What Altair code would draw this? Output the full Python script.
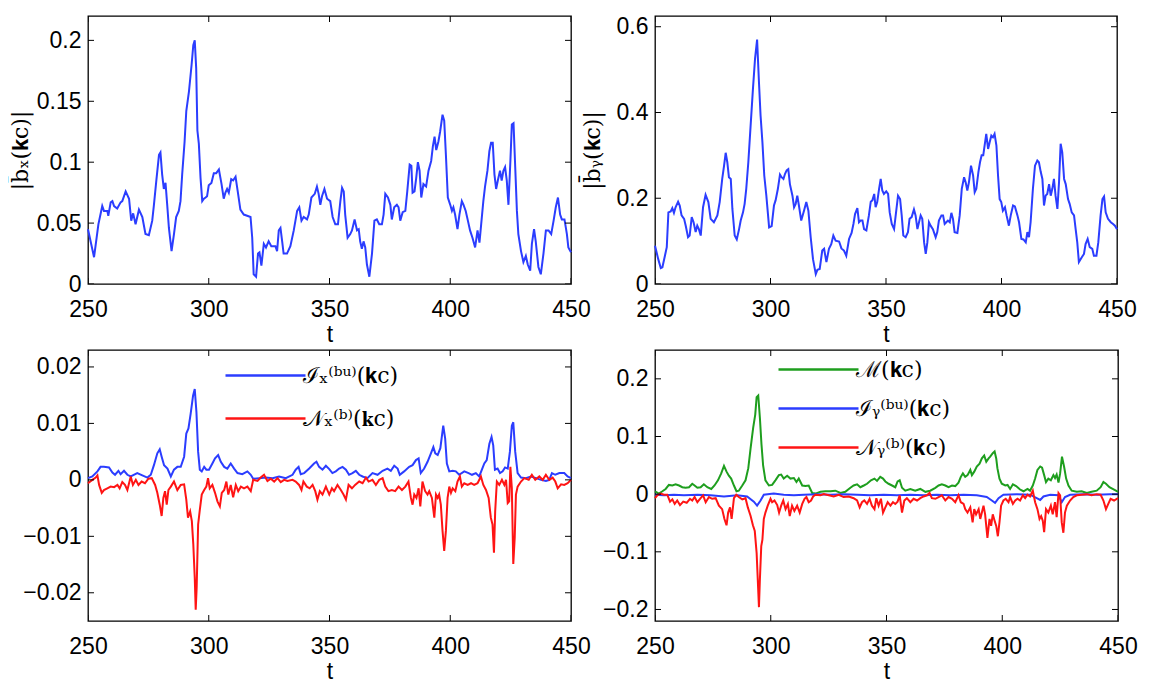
import altair as alt
import pandas as pd

# ---------------- data ----------------
X_TICKS = [250, 300, 350, 400, 450]

# top-left: |b_x(k_c)|
TL_T = [250.0, 252.5, 254.3, 255.9, 256.6, 258.0, 258.4, 259.4, 260.1, 260.8,
        262.1, 263.5, 264.2, 265.6, 267.0, 267.9, 268.7, 269.7, 271.1, 272.5,
        273.8, 275.2, 276.6, 277.3, 278.3, 279.4, 280.0, 280.7, 281.4, 282.1,
        282.8, 283.5, 284.6, 285.6, 286.5, 287.6, 288.3, 289.0, 290.0, 290.7,
        291.8, 292.9, 293.6, 294.2, 294.8, 295.3, 295.9, 296.6, 297.3, 298.0,
        298.7, 299.3, 300.0, 301.1, 302.1, 303.1, 304.2, 305.3, 306.2, 306.9,
        307.6, 308.3, 309.3, 310.1, 311.1, 312.0, 313.1, 314.5, 315.9, 317.3,
        318.0, 318.6, 319.6, 320.4, 321.0, 321.8, 322.8, 323.7, 324.8, 325.9,
        327.6, 328.3, 329.0, 329.7, 330.4, 331.0, 332.4, 333.8, 335.2, 336.6,
        337.5, 338.4, 339.3, 340.7, 341.4, 342.5, 343.9, 344.8, 345.5, 346.2,
        346.9, 347.9, 349.0, 350.3, 351.3, 352.4, 353.5, 354.5, 355.2, 355.9,
        356.5, 357.5, 358.6, 359.3, 360.4, 361.4, 362.1, 362.7, 363.4, 364.1,
        364.8, 365.5, 366.5, 367.6, 368.6, 369.6, 370.6, 371.7, 372.4, 373.1,
        374.2, 375.2, 375.8, 376.8, 377.9, 378.6, 379.3, 380.3, 381.4, 382.2,
        383.2, 383.9, 384.4, 385.2, 385.9, 386.6, 387.3, 388.0, 388.9, 390.0,
        391.0, 392.1, 392.8, 393.5, 394.2, 395.1, 395.8, 396.8, 397.5, 398.2,
        399.0, 400.0, 400.7, 401.3, 402.0, 403.0, 403.8, 404.8, 405.5, 406.4,
        407.3, 408.2, 409.2, 410.3, 411.3, 412.1, 412.8, 413.7, 414.4, 415.4,
        416.2, 416.9, 417.6, 418.3, 419.0, 419.7, 420.6, 421.3, 422.0, 422.7,
        423.4, 424.1, 424.9, 425.5, 426.2, 426.9, 427.6, 428.2, 429.3, 430.3,
        431.3, 432.1, 433.1, 433.8, 434.7, 435.4, 436.5, 437.5, 438.6, 439.6,
        440.7, 441.8, 442.8, 443.7, 444.6, 445.5, 446.2, 447.3, 448.3, 448.9,
        450.0]
TL_V = [0.045, 0.022, 0.049, 0.064, 0.060, 0.060, 0.056, 0.067, 0.068, 0.064,
        0.062, 0.067, 0.068, 0.076, 0.070, 0.052, 0.058, 0.049, 0.061, 0.055,
        0.041, 0.040, 0.052, 0.065, 0.085, 0.106, 0.108, 0.090, 0.078, 0.083,
        0.065, 0.046, 0.027, 0.041, 0.055, 0.060, 0.068, 0.090, 0.117, 0.142,
        0.158, 0.180, 0.196, 0.200, 0.177, 0.126, 0.115, 0.087, 0.068, 0.070,
        0.071, 0.072, 0.081, 0.083, 0.091, 0.091, 0.094, 0.082, 0.070, 0.075,
        0.078, 0.075, 0.086, 0.085, 0.088, 0.076, 0.061, 0.057, 0.056, 0.055,
        0.038, 0.008, 0.006, 0.025, 0.026, 0.015, 0.033, 0.030, 0.035, 0.031,
        0.031, 0.027, 0.044, 0.046, 0.035, 0.025, 0.025, 0.031, 0.044, 0.060,
        0.063, 0.052, 0.055, 0.053, 0.057, 0.071, 0.074, 0.080, 0.074, 0.065,
        0.072, 0.078, 0.070, 0.068, 0.055, 0.049, 0.049, 0.068, 0.079, 0.076,
        0.057, 0.038, 0.041, 0.044, 0.053, 0.044, 0.045, 0.035, 0.029, 0.035,
        0.030, 0.016, 0.006, 0.025, 0.052, 0.053, 0.049, 0.049, 0.057, 0.074,
        0.071, 0.065, 0.053, 0.063, 0.065, 0.063, 0.052, 0.059, 0.060, 0.076,
        0.098, 0.097, 0.075, 0.076, 0.087, 0.100, 0.093, 0.071, 0.082, 0.080,
        0.093, 0.101, 0.113, 0.121, 0.110, 0.117, 0.125, 0.139, 0.134, 0.106,
        0.071, 0.065, 0.060, 0.063, 0.057, 0.045, 0.057, 0.068, 0.065, 0.060,
        0.052, 0.044, 0.038, 0.030, 0.044, 0.034, 0.049, 0.068, 0.080, 0.093,
        0.109, 0.116, 0.116, 0.090, 0.078, 0.085, 0.093, 0.085, 0.093, 0.096,
        0.085, 0.065, 0.101, 0.131, 0.132, 0.096, 0.060, 0.041, 0.027, 0.018,
        0.023, 0.016, 0.011, 0.033, 0.045, 0.035, 0.014, 0.008, 0.025, 0.044,
        0.044, 0.041, 0.052, 0.063, 0.071, 0.057, 0.053, 0.053, 0.041, 0.030,
        0.026]

# top-right: |b_y(k_c)|
TR_T = [250.0, 251.4, 252.5, 253.2, 254.3, 255.1, 255.8, 256.8, 257.5, 258.2,
        258.9, 260.0, 260.7, 261.5, 262.6, 263.3, 264.3, 265.0, 265.9, 266.7,
        267.6, 268.3, 269.0, 269.8, 270.8, 271.9, 273.1, 274.1, 275.5, 277.0,
        278.0, 279.1, 279.9, 280.6, 281.3, 282.0, 282.8, 283.5, 284.5, 285.4,
        286.4, 287.1, 288.1, 288.8, 289.5, 290.4, 291.4, 292.4, 293.3, 294.2,
        295.0, 295.7, 296.5, 297.3, 298.2, 299.4, 300.5, 301.5, 302.2, 303.2,
        304.1, 304.8, 305.6, 306.3, 307.0, 307.7, 308.4, 309.5, 310.2, 310.9,
        311.6, 312.3, 313.3, 314.5, 315.5, 316.4, 317.4, 318.4, 319.6, 320.3,
        321.3, 322.4, 323.2, 324.2, 325.3, 326.3, 327.2, 328.2, 329.7, 330.7,
        331.8, 332.8, 334.0, 335.1, 335.9, 336.6, 337.6, 338.3, 339.0, 339.8,
        340.5, 341.5, 342.6, 343.4, 344.1, 344.9, 345.5, 346.2, 347.0, 347.7,
        348.4, 349.1, 350.1, 350.9, 351.6, 352.5, 353.5, 354.2, 355.2, 356.1,
        356.8, 357.5, 358.5, 359.5, 360.2, 361.1, 362.1, 362.8, 363.6, 364.3,
        365.0, 365.7, 366.5, 367.2, 367.9, 368.6, 369.3, 370.3, 371.5, 372.2,
        372.9, 374.0, 374.7, 375.4, 376.1, 376.8, 377.6, 378.3, 379.0, 379.7,
        380.9, 381.9, 382.8, 383.8, 384.5, 385.2, 385.9, 386.8, 387.7, 388.4,
        389.1, 390.0, 390.7, 391.4, 392.1, 392.9, 393.4, 394.2, 394.9, 395.6,
        396.3, 397.0, 397.8, 398.5, 399.2, 399.9, 400.6, 401.5, 402.2, 403.2,
        404.0, 405.0, 405.8, 406.9, 407.6, 408.6, 409.5, 410.5, 411.2, 411.9,
        412.6, 413.6, 414.5, 415.5, 416.2, 417.0, 417.7, 418.4, 419.1, 419.8,
        420.6, 421.3, 422.0, 422.7, 423.4, 424.2, 424.9, 425.6, 426.3, 427.1,
        427.8, 428.8, 429.5, 430.4, 431.4, 432.1, 432.8, 433.5, 434.7, 435.7,
        436.4, 437.3, 438.2, 439.3, 440.0, 441.1, 441.9, 442.9, 443.7, 444.4,
        445.1, 446.1, 447.3, 448.3, 449.1, 450.0]
TR_V = [0.089, 0.058, 0.037, 0.039, 0.066, 0.086, 0.167, 0.169, 0.177, 0.166,
        0.179, 0.192, 0.183, 0.160, 0.152, 0.136, 0.109, 0.113, 0.156, 0.144,
        0.121, 0.136, 0.128, 0.113, 0.179, 0.208, 0.191, 0.152, 0.144, 0.160,
        0.191, 0.245, 0.276, 0.306, 0.284, 0.249, 0.245, 0.175, 0.113, 0.104,
        0.128, 0.148, 0.167, 0.187, 0.222, 0.284, 0.370, 0.455, 0.525, 0.570,
        0.471, 0.393, 0.331, 0.253, 0.206, 0.132, 0.135, 0.183, 0.195, 0.222,
        0.255, 0.249, 0.245, 0.257, 0.265, 0.268, 0.233, 0.206, 0.179, 0.187,
        0.206, 0.183, 0.148, 0.171, 0.191, 0.171, 0.109, 0.058, 0.023, 0.033,
        0.035, 0.078, 0.082, 0.051, 0.082, 0.093, 0.113, 0.101, 0.099, 0.083,
        0.078, 0.066, 0.105, 0.119, 0.140, 0.163, 0.177, 0.144, 0.148, 0.148,
        0.128, 0.125, 0.160, 0.192, 0.195, 0.210, 0.179, 0.191, 0.222, 0.245,
        0.218, 0.210, 0.216, 0.210, 0.167, 0.140, 0.128, 0.160, 0.206, 0.198,
        0.160, 0.113, 0.109, 0.121, 0.152, 0.156, 0.174, 0.160, 0.128, 0.144,
        0.160, 0.152, 0.097, 0.070, 0.097, 0.144, 0.136, 0.128, 0.109, 0.121,
        0.148, 0.160, 0.160, 0.140, 0.144, 0.148, 0.144, 0.166, 0.152, 0.121,
        0.119, 0.160, 0.222, 0.249, 0.237, 0.218, 0.237, 0.276, 0.253, 0.214,
        0.222, 0.261, 0.284, 0.300, 0.300, 0.331, 0.350, 0.315, 0.331, 0.346,
        0.342, 0.350, 0.323, 0.253, 0.198, 0.191, 0.171, 0.179, 0.160, 0.136,
        0.160, 0.183, 0.181, 0.160, 0.144, 0.105, 0.104, 0.097, 0.121, 0.109,
        0.144, 0.222, 0.276, 0.288, 0.284, 0.261, 0.245, 0.183, 0.206, 0.210,
        0.233, 0.206, 0.222, 0.245, 0.206, 0.175, 0.237, 0.327, 0.307, 0.245,
        0.233, 0.198, 0.187, 0.167, 0.160, 0.128, 0.097, 0.051, 0.062, 0.070,
        0.093, 0.105, 0.086, 0.082, 0.066, 0.066, 0.097, 0.160, 0.198, 0.204,
        0.167, 0.152, 0.144, 0.140, 0.136, 0.128]

# bottom-left: I_x^(bu)(k_c) and N_x^(b)(k_c)
BL_I_T = [250.0, 251.8, 253.9, 255.2, 256.6, 258.7, 260.1, 261.2, 262.6, 263.5,
          264.9, 266.3, 267.7, 270.4, 272.5, 274.6, 276.0, 277.3, 278.7, 279.7,
          280.5, 281.5, 282.9, 284.3, 285.6, 287.0, 288.4, 289.8, 290.7, 291.6,
          292.5, 293.5, 294.2, 294.9, 295.6, 296.3, 297.1, 298.1, 299.0, 300.1,
          301.5, 302.6, 303.9, 305.0, 306.4, 307.7, 309.1, 310.5, 311.9, 313.9,
          316.0, 317.4, 318.4, 320.9, 323.6, 326.4, 329.1, 331.9, 334.7, 336.0,
          337.2, 338.1, 339.5, 341.6, 343.6, 344.6, 345.7, 347.1, 348.5, 349.9,
          351.2, 352.6, 354.0, 355.4, 356.8, 358.1, 359.5, 360.9, 362.3, 363.7,
          365.7, 367.8, 369.9, 372.0, 374.0, 375.4, 376.8, 378.2, 379.1, 380.9,
          383.0, 384.4, 385.8, 386.9, 387.8, 389.2, 390.6, 392.0, 393.0, 393.8,
          394.8, 395.9, 397.1, 397.9, 398.6, 399.6, 401.0, 402.3, 403.7, 405.8,
          407.6, 409.0, 410.6, 412.0, 413.1, 414.1, 415.1, 416.2, 417.1, 417.8,
          418.5, 419.6, 420.6, 421.7, 422.7, 423.8, 424.7, 425.5, 426.1, 426.9,
          427.9, 429.3, 431.3, 433.4, 435.5, 437.6, 439.6, 441.0, 442.1, 443.5,
          445.2, 447.2, 448.6, 450.0]
BL_I_V = [0.0003, 0.0006, 0.0015, 0.0023, 0.0023, 0.0022, 0.0013, 0.0009, 0.0016, 0.0010,
          0.0016, 0.0009, 0.0006, 0.0012, 0.0008, 0.0004, 0.0009, 0.0026, 0.0047, 0.0054,
          0.0041, 0.0026, 0.0020, 0.0006, 0.0018, 0.0023, 0.0023, 0.0041, 0.0082, 0.0091,
          0.0117, 0.0149, 0.0161, 0.0120, 0.0050, 0.0018, 0.0015, 0.0023, 0.0018, 0.0018,
          0.0029, 0.0038, 0.0044, 0.0032, 0.0023, 0.0020, 0.0029, 0.0020, 0.0012, 0.0010,
          0.0015, 0.0009, 0.0002, 0.0003, 0.0004, 0.0003, 0.0006, 0.0003, 0.0009, 0.0018,
          0.0023, 0.0010, 0.0012, 0.0020, 0.0029, 0.0032, 0.0023, 0.0018, 0.0025, 0.0019,
          0.0012, 0.0015, 0.0020, 0.0023, 0.0018, 0.0009, 0.0012, 0.0016, 0.0009, 0.0006,
          0.0003, 0.0012, 0.0009, 0.0016, 0.0020, 0.0016, 0.0025, 0.0020, 0.0009, 0.0015,
          0.0023, 0.0026, 0.0035, 0.0038, 0.0012, 0.0020, 0.0032, 0.0047, 0.0058, 0.0047,
          0.0044, 0.0056, 0.0096, 0.0073, 0.0029, 0.0015, 0.0016, 0.0015, 0.0009, 0.0015,
          0.0012, 0.0009, 0.0012, 0.0006, 0.0018, 0.0029, 0.0035, 0.0064, 0.0076, 0.0061,
          0.0018, 0.0020, 0.0012, 0.0015, 0.0022, 0.0020, 0.0050, 0.0096, 0.0102, 0.0050,
          0.0012, 0.0004, 0.0003, 0.0006, 0.0003, 0.0000, -0.0002, 0.0000, 0.0012, 0.0009,
          0.0012, 0.0012, 0.0006, 0.0003]

BL_N_T = [250.0, 251.8, 253.2, 253.9, 254.6, 255.7, 256.6, 258.0, 259.4, 260.8,
          262.2, 263.1, 264.2, 265.3, 266.3, 267.7, 268.6, 269.8, 270.9, 272.2,
          273.6, 275.0, 276.4, 277.8, 278.7, 279.7, 280.5, 281.2, 281.9, 282.6,
          283.3, 284.3, 285.6, 287.0, 288.4, 289.8, 290.7, 291.4, 292.3, 293.0,
          293.6, 294.2, 294.6, 295.0, 295.6, 296.3, 297.1, 298.1, 299.0, 299.7,
          300.4, 301.5, 302.6, 303.6, 304.6, 305.4, 306.4, 307.3, 308.1, 309.1,
          310.1, 311.2, 312.2, 313.3, 314.6, 316.0, 317.4, 318.4, 320.2, 321.5,
          322.9, 324.3, 325.7, 327.1, 328.5, 329.8, 331.2, 332.6, 334.7, 336.0,
          337.4, 338.4, 339.2, 340.6, 341.8, 343.0, 344.1, 345.0, 346.0, 347.1,
          348.5, 349.9, 351.0, 351.9, 353.3, 354.7, 355.8, 356.8, 357.9, 359.3,
          360.6, 362.3, 363.7, 365.1, 366.2, 367.8, 369.2, 370.6, 372.0, 373.1,
          374.4, 375.8, 377.2, 378.6, 380.0, 381.4, 382.7, 383.7, 384.4, 385.1,
          386.0, 386.9, 387.6, 388.5, 389.6, 390.6, 391.3, 392.4, 393.4, 394.1,
          394.8, 395.4, 396.1, 396.8, 397.5, 398.2, 398.9, 399.6, 400.3, 401.0,
          402.1, 403.0, 404.0, 404.8, 405.8, 407.2, 408.6, 409.9, 411.3, 412.7,
          413.7, 414.8, 415.9, 416.8, 417.5, 418.1, 418.6, 419.3, 420.3, 421.4,
          422.4, 423.1, 423.8, 424.4, 424.9, 425.5, 426.1, 426.7, 427.2, 427.9,
          429.3, 430.7, 432.5, 433.8, 435.2, 436.9, 438.3, 439.6, 441.0, 442.4,
          443.5, 444.5, 445.9, 447.2, 448.6, 450.0]
BL_N_V = [-0.0006, 0.0000, 0.0004, 0.0008, -0.0009, -0.0023, -0.0018, -0.0015, -0.0012, -0.0013,
          -0.0009, -0.0015, -0.0004, -0.0009, -0.0018, 0.0006, -0.0009, 0.0000, -0.0009, -0.0003,
          -0.0006, 0.0002, 0.0003, -0.0009, -0.0023, -0.0044, -0.0064, -0.0032, -0.0020, -0.0044,
          -0.0018, -0.0012, -0.0003, -0.0018, -0.0009, -0.0008, -0.0035, -0.0067, -0.0056, -0.0073,
          -0.0114, -0.0173, -0.0230, -0.0190, -0.0079, -0.0053, -0.0026, -0.0018, -0.0012, 0.0003,
          -0.0015, -0.0009, -0.0023, -0.0038, -0.0047, -0.0023, -0.0018, -0.0003, -0.0026, -0.0009,
          -0.0031, -0.0009, -0.0020, -0.0012, -0.0015, -0.0012, -0.0020, 0.0000, -0.0002, 0.0004,
          0.0009, -0.0002, 0.0002, -0.0003, 0.0003, -0.0004, 0.0000, -0.0002, 0.0000, -0.0003,
          -0.0009, -0.0018, -0.0003, -0.0012, -0.0015, -0.0009, -0.0020, -0.0035, -0.0020, -0.0026,
          -0.0012, -0.0026, -0.0015, -0.0020, -0.0009, -0.0018, -0.0026, -0.0035, -0.0009, -0.0015,
          -0.0009, -0.0003, -0.0006, 0.0004, -0.0003, 0.0000, -0.0009, 0.0000, 0.0003, -0.0012,
          -0.0020, -0.0018, -0.0020, -0.0012, -0.0018, -0.0012, -0.0003, -0.0032, -0.0044, -0.0026,
          -0.0032, -0.0015, -0.0047, -0.0003, -0.0020, -0.0026, -0.0020, -0.0032, -0.0067, -0.0026,
          -0.0032, -0.0026, -0.0044, -0.0090, -0.0126, -0.0090, -0.0032, -0.0012, -0.0023, -0.0015,
          -0.0020, -0.0003, 0.0006, -0.0012, -0.0006, -0.0009, -0.0006, -0.0009, -0.0006, 0.0006,
          -0.0009, -0.0018, -0.0032, -0.0067, -0.0079, -0.0129, -0.0056, -0.0003, -0.0009, 0.0000,
          -0.0009, 0.0000, -0.0041, -0.0038, 0.0023, -0.0015, -0.0149, -0.0102, -0.0026, -0.0012,
          -0.0003, 0.0003, 0.0000, 0.0009, 0.0000, 0.0006, 0.0000, 0.0009, 0.0000, 0.0004,
          -0.0003, -0.0015, -0.0008, -0.0009, -0.0006, 0.0000]

# bottom-right: M(k_c), I_y^(bu)(k_c), N_y^(b)(k_c)
BR_M_T = [250.0, 251.7, 253.2, 254.6, 256.0, 257.5, 258.9, 260.4, 261.8, 263.2,
          264.7, 266.1, 267.1, 268.3, 269.7, 271.1, 272.6, 274.3, 275.7, 277.2,
          278.6, 279.8, 280.9, 281.9, 282.9, 284.1, 285.2, 286.2, 287.7, 289.1,
          290.3, 291.3, 292.4, 293.3, 293.9, 294.6, 295.3, 296.0, 296.7, 297.7,
          299.2, 300.6, 302.0, 303.5, 304.5, 305.6, 307.1, 308.5, 310.0, 311.1,
          312.1, 313.6, 315.0, 316.4, 317.9, 319.3, 321.5, 323.6, 325.8, 327.9,
          330.1, 332.2, 334.4, 335.8, 337.3, 338.7, 340.2, 341.6, 343.3, 344.8,
          345.9, 347.3, 348.5, 349.5, 350.9, 352.4, 353.8, 354.8, 355.7, 356.7,
          358.1, 360.3, 362.4, 364.6, 366.8, 368.9, 371.1, 372.5, 373.9, 375.4,
          376.8, 378.3, 379.7, 381.1, 382.1, 383.0, 384.0, 385.0, 386.2, 386.9,
          387.9, 389.0, 390.2, 391.2, 392.2, 393.1, 394.1, 394.8, 395.9, 396.7,
          397.4, 397.9, 398.8, 399.8, 401.3, 402.3, 403.4, 404.6, 406.0, 407.7,
          409.2, 410.9, 412.0, 413.2, 414.2, 415.2, 416.4, 417.2, 418.1, 418.9,
          419.9, 421.0, 422.1, 422.8, 423.5, 424.3, 425.0, 425.8, 426.7, 427.6,
          428.6, 430.0, 432.2, 434.3, 436.5, 438.6, 440.8, 442.5, 443.7, 444.8,
          446.3, 447.7, 449.1, 450.0]
BR_M_V = [0.005, 0.001, 0.005, 0.009, 0.016, 0.015, 0.017, 0.015, 0.012, 0.011,
          0.012, 0.018, 0.015, 0.011, 0.012, 0.017, 0.012, 0.009, 0.015, 0.024,
          0.036, 0.049, 0.039, 0.032, 0.027, 0.015, 0.005, 0.006, 0.015, 0.024,
          0.045, 0.080, 0.115, 0.138, 0.168, 0.171, 0.133, 0.086, 0.050, 0.024,
          0.015, 0.016, 0.024, 0.033, 0.034, 0.027, 0.032, 0.027, 0.028, 0.021,
          0.027, 0.015, 0.014, 0.015, 0.002, 0.001, 0.004, 0.005, 0.005, 0.006,
          0.002, 0.004, 0.011, 0.015, 0.017, 0.012, 0.015, 0.018, 0.024, 0.027,
          0.023, 0.030, 0.027, 0.022, 0.018, 0.015, 0.012, 0.022, 0.024, 0.011,
          0.006, 0.009, 0.006, 0.009, 0.004, 0.006, 0.011, 0.015, 0.017, 0.015,
          0.012, 0.015, 0.014, 0.020, 0.030, 0.036, 0.030, 0.033, 0.042, 0.033,
          0.039, 0.048, 0.053, 0.062, 0.067, 0.056, 0.062, 0.065, 0.071, 0.074,
          0.062, 0.045, 0.027, 0.018, 0.015, 0.016, 0.009, 0.017, 0.014, 0.008,
          0.005, 0.009, 0.006, 0.015, 0.027, 0.042, 0.048, 0.046, 0.033, 0.021,
          0.027, 0.024, 0.033, 0.028, 0.034, 0.020, 0.036, 0.065, 0.048, 0.027,
          0.015, 0.006, 0.004, 0.005, 0.002, 0.004, 0.006, 0.012, 0.021, 0.018,
          0.012, 0.009, 0.006, 0.004]

BR_I_T = [250.0, 253.9, 258.2, 262.5, 268.3, 274.0, 279.8, 285.5, 289.8, 292.7,
          294.1, 295.6, 297.0, 301.3, 305.6, 310.0, 314.3, 320.0, 325.8, 331.5,
          337.3, 343.0, 348.8, 354.5, 360.3, 366.0, 371.8, 377.5, 383.3, 389.0,
          393.3, 395.5, 396.9, 398.4, 400.5, 406.3, 412.0, 414.9, 416.4, 417.8,
          420.7, 424.3, 425.7, 427.1, 429.3, 435.0, 440.8, 446.5, 450.0]
BR_I_V = [-0.001, -0.002, -0.001, -0.002, -0.001, -0.002, -0.004, -0.002, -0.004, -0.013,
          -0.020, -0.011, -0.001, 0.001, -0.001, -0.002, -0.001, 0.000, -0.001, 0.000,
          -0.001, -0.002, -0.001, -0.002, -0.001, -0.002, -0.001, -0.002, -0.001, -0.002,
          -0.005, -0.011, -0.015, -0.007, -0.001, 0.000, -0.001, -0.007, -0.010, -0.004,
          -0.001, -0.002, -0.014, -0.005, -0.001, 0.000, -0.001, 0.000, 0.000]

BR_N_T = [250.0, 251.0, 252.4, 253.9, 255.3, 256.5, 257.5, 258.5, 259.6, 260.8,
          262.2, 263.7, 265.1, 266.1, 267.1, 268.3, 269.7, 270.8, 271.9, 273.3,
          274.7, 276.2, 277.6, 279.0, 280.0, 280.9, 281.6, 282.4, 283.1, 284.1,
          285.1, 286.2, 287.7, 289.1, 290.1, 291.3, 292.3, 293.1, 293.9, 294.4,
          294.9, 295.3, 295.9, 296.4, 297.0, 297.7, 298.7, 299.9, 300.6, 301.6,
          302.8, 303.6, 304.5, 305.4, 306.4, 307.4, 308.2, 309.2, 310.2, 311.4,
          312.5, 313.6, 314.6, 315.4, 316.4, 317.4, 318.3, 319.3, 321.5, 322.9,
          325.1, 327.2, 329.4, 331.5, 333.7, 335.8, 337.3, 338.4, 339.4, 340.4,
          341.6, 342.7, 343.7, 344.8, 345.6, 346.6, 347.6, 348.5, 349.5, 350.5,
          351.7, 352.8, 353.8, 354.8, 355.7, 356.7, 357.7, 358.8, 360.3, 361.7,
          363.2, 364.6, 366.0, 367.5, 368.6, 369.6, 371.1, 372.5, 373.9, 375.4,
          376.8, 378.3, 379.7, 381.1, 382.1, 383.3, 384.0, 385.0, 386.2, 387.2,
          387.9, 388.7, 389.8, 390.5, 391.2, 391.9, 392.6, 393.6, 394.5, 395.2,
          395.9, 396.7, 397.4, 398.1, 398.8, 399.5, 400.5, 401.5, 402.7, 403.4,
          404.6, 405.6, 406.6, 407.7, 408.9, 409.9, 410.9, 412.0, 413.2, 414.2,
          415.2, 416.1, 416.8, 417.5, 418.1, 418.9, 419.9, 421.0, 421.8, 422.8,
          423.5, 424.3, 425.0, 425.7, 426.4, 427.1, 427.9, 429.3, 430.7, 432.2,
          434.3, 436.5, 438.6, 440.8, 442.5, 443.7, 444.8, 445.8, 446.8, 448.3,
          450.0]
BR_N_V = [-0.007, -0.002, 0.001, -0.001, -0.001, -0.013, -0.009, -0.017, -0.011, -0.019,
          -0.013, -0.015, -0.008, -0.011, -0.005, -0.014, -0.007, -0.002, -0.014, -0.005,
          -0.008, -0.007, -0.020, -0.026, -0.043, -0.054, -0.032, -0.023, -0.043, -0.007,
          -0.001, -0.005, -0.009, -0.007, -0.023, -0.038, -0.054, -0.064, -0.102, -0.149,
          -0.196, -0.149, -0.090, -0.079, -0.043, -0.032, -0.020, -0.008, -0.014, -0.011,
          -0.019, -0.032, -0.020, -0.011, -0.026, -0.017, -0.038, -0.020, -0.029, -0.020,
          -0.032, -0.017, -0.008, -0.005, -0.014, -0.011, -0.004, -0.001, -0.002, 0.000,
          -0.002, -0.004, -0.001, -0.005, -0.004, -0.007, -0.011, -0.023, -0.014, -0.011,
          -0.017, -0.008, -0.020, -0.026, -0.007, -0.020, -0.008, -0.032, -0.023, -0.014,
          -0.020, -0.014, -0.017, -0.013, -0.002, -0.032, -0.011, -0.007, -0.014, -0.008,
          -0.011, -0.007, -0.004, -0.002, 0.002, -0.007, -0.008, -0.005, -0.002, -0.011,
          -0.005, -0.008, -0.014, -0.002, -0.014, -0.017, -0.026, -0.032, -0.023, -0.049,
          -0.026, -0.035, -0.026, -0.043, -0.032, -0.020, -0.035, -0.076, -0.043, -0.055,
          -0.035, -0.046, -0.055, -0.073, -0.049, -0.020, -0.011, -0.008, -0.014, -0.005,
          -0.017, -0.011, -0.008, -0.011, -0.002, -0.007, -0.001, -0.004, 0.006, -0.014,
          -0.026, -0.043, -0.038, -0.046, -0.066, -0.026, -0.032, -0.020, -0.035, -0.014,
          -0.040, 0.002, -0.002, -0.049, -0.067, -0.032, -0.020, -0.011, -0.005, -0.002,
          -0.001, 0.000, -0.002, 0.000, -0.001, -0.011, -0.026, -0.017, -0.008, -0.011,
          -0.007]

BL_NAMES = ["ℐₓ⁽ᵇᵘ⁾(𝐤c)", "𝒩ₓ⁽ᵇ⁾(𝐤c)"]
BR_NAMES = ["ℳ(𝐤c)", "ℐᵧ⁽ᵇᵘ⁾(𝐤c)", "𝒩ᵧ⁽ᵇ⁾(𝐤c)"]

BLUE = "#2b3dff"
RED = "#ff1414"
GREEN = "#1e9e1e"


def series(ts, vs, name):
    n = min(len(ts), len(vs))
    return pd.DataFrame({"t": ts[:n], "v": vs[:n], "s": [name] * n})


# ---------------- helpers ----------------
XSCALE = alt.Scale(domain=[250, 450], nice=False, zero=False)
LABEL_STYLE = dict(labelFont="Liberation Sans", labelFontSize=23, labelColor="black")


def panel(df, ydomain, yticks, ytitle, width, height, color=None, color_value=None, title_pad=4):
    ys = alt.Scale(domain=ydomain, nice=False, zero=False)
    yaxis_kwargs = dict(values=yticks, format="~g", ticks=False, domain=False, grid=False,
                        labelPadding=7, **LABEL_STYLE)
    if ytitle is not None:
        yaxis_kwargs.update(title=ytitle, titlePadding=title_pad, titleFont="DejaVu Serif",
                            titleFontSize=22, titleFontWeight="normal", titleColor="black")
    else:
        yaxis_kwargs.update(title=None)
    xaxis = alt.Axis(values=X_TICKS, title="t", ticks=False, domain=False, grid=False,
                     labelFlush=False, labelPadding=14, titlePadding=2, format="d", **LABEL_STYLE,
                     titleFont="Liberation Sans", titleFontSize=23,
                     titleFontWeight="normal", titleColor="black")
    yaxis = alt.Axis(**yaxis_kwargs)
    xenc = alt.X("t:Q", scale=XSCALE, axis=xaxis)
    yenc = alt.Y("v:Q", scale=ys, axis=yaxis)

    enc = dict(x=xenc, y=yenc)
    if color is not None:
        enc["color"] = color
    base = alt.Chart(df)
    if color_value is not None:
        lines = base.mark_line(strokeWidth=2, color=color_value).encode(**enc)
    else:
        lines = base.mark_line(strokeWidth=2).encode(**enc)

    # inward ticks: tick marks centred on the frame, clipped to the plot area
    xt = pd.DataFrame({"t": X_TICKS * 2,
                       "v": [ydomain[0]] * len(X_TICKS) + [ydomain[1]] * len(X_TICKS)})
    yt = pd.DataFrame({"t": [X_TICKS[0]] * len(yticks) + [X_TICKS[-1]] * len(yticks),
                       "v": list(yticks) * 2})
    xticks = alt.Chart(xt).mark_tick(orient="vertical", size=12, thickness=1,
                                     color="black", clip=True, opacity=1).encode(x=xenc, y=yenc)
    yticks_l = alt.Chart(yt).mark_tick(orient="horizontal", size=12, thickness=1,
                                       color="black", clip=True, opacity=1).encode(x=xenc, y=yenc)
    return alt.layer(lines, xticks, yticks_l).properties(width=width, height=height)


def legend(x, y, row_pad):
    return alt.Legend(title=None, orient="none", legendX=x, legendY=y,
                      symbolType="M-4,0H4", symbolSize=400, symbolStrokeWidth=2.5,
                      labelFont="DejaVu Serif", labelFontSize=22, labelOffset=26,
                      rowPadding=row_pad, padding=0, labelLimit=400, labelColor="black")


tl_df = series(TL_T, TL_V, "bx")
tr_df = series(TR_T, TR_V, "by")
bl_df = pd.concat([series(BL_I_T, BL_I_V, BL_NAMES[0]), series(BL_N_T, BL_N_V, BL_NAMES[1])])
br_df = pd.concat([series(BR_M_T, BR_M_V, BR_NAMES[0]), series(BR_I_T, BR_I_V, BR_NAMES[1]),
                   series(BR_N_T, BR_N_V, BR_NAMES[2])])

tl = panel(tl_df, [0, 0.22], [0, 0.05, 0.1, 0.15, 0.2], "|b̄ₓ(𝐤c)|", 483, 268, color_value=BLUE)
tr = panel(tr_df, [0, 0.625], [0, 0.2, 0.4, 0.6], "|b̄ᵧ(𝐤c)|", 462, 268, color_value=BLUE,
           title_pad=12)
bl = panel(bl_df, [-0.025, 0.023], [-0.02, -0.01, 0, 0.01, 0.02], None, 483, 271,
           color=alt.Color("s:N", scale=alt.Scale(domain=BL_NAMES, range=[BLUE, RED]),
                           legend=legend(166, 14, 20)))
br = panel(br_df, [-0.22, 0.25], [-0.2, -0.1, 0, 0.1, 0.2], None, 463, 271,
           color=alt.Color("s:N", scale=alt.Scale(domain=BR_NAMES, range=[GREEN, BLUE, RED]),
                           legend=legend(152, 8, 16)))

chart = alt.concat(tl, tr, bl, br, columns=2, spacing={"row": 66, "column": 84}, bounds="flush").resolve_scale(
    color="independent"
).properties(
    padding={"left": 0, "top": 7, "right": 0, "bottom": 0}
).configure_view(
    stroke="black", strokeWidth=1.3
)

chart.save("out.html", embed_options={"renderer": "svg", "actions": False})
